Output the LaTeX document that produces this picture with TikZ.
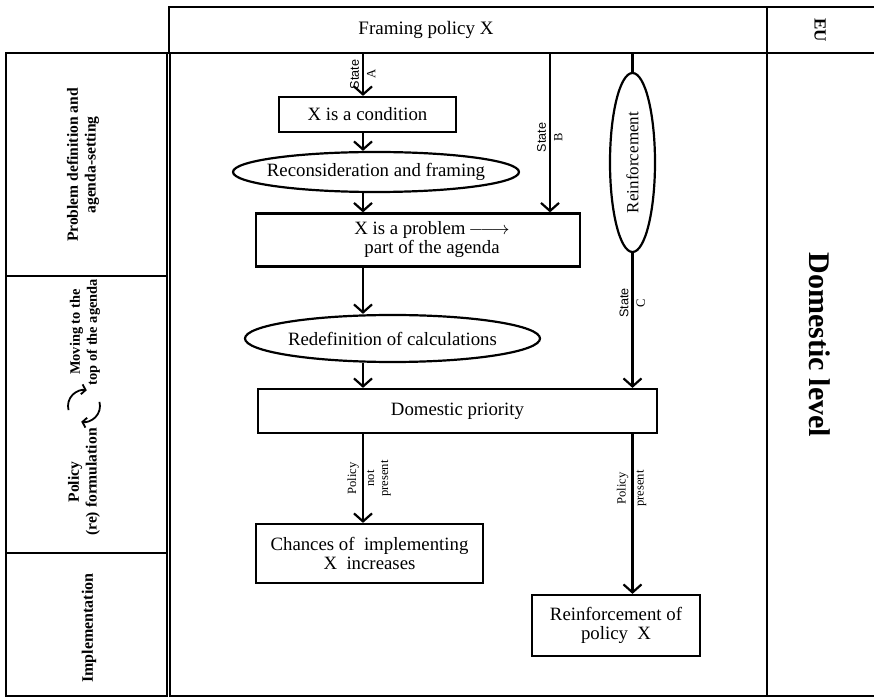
\documentclass[tikz,border=0pt]{standalone}
\usepackage{fontspec}
\setmainfont{Liberation Serif}
\newfontfamily\statefont{Liberation Sans}
\usetikzlibrary{shapes.geometric,arrows.meta}
\tikzset{
  box/.style={draw,line width=1.1pt,inner sep=0pt,align=center,font=\fontsize{9.4}{9.5}\selectfont},
  oval/.style={draw,ellipse,line width=1.1pt,inner xsep=-6pt,inner ysep=0pt,font=\fontsize{9.4}{10}\selectfont},
  flow/.style={line width=1.1pt,-{Straight Barb[length=4pt,width=9pt,line width=1.1pt]}},
  tag/.style={rotate=90,inner sep=1.5pt,align=center,font=\fontsize{6.3}{7}\selectfont},
  phase/.style={rotate=90,align=center,font=\bfseries\fontsize{7.8}{8.8}\selectfont},
  frame/.style={line width=1.4pt}
}
\begin{document}
\begin{tikzpicture}[x=0.5pt,y=-0.5pt]
\useasboundingbox (0,0) rectangle (874,700);
% frame of the table
\draw[frame] (169,7) rectangle (767,53);
\draw[frame] (767,7) rectangle (880,53);
\draw[frame] (6,53) rectangle (167,696);
\draw[frame] (6,276) -- (167,276) (6,553) -- (167,553);
\draw[frame] (170,53) rectangle (767,696);
\draw[frame] (767,53) rectangle (880,696);

\node[font=\fontsize{9.5}{11}\selectfont] (fx) at (426,30) {Framing policy\ X};
\node[rotate=-90,font=\bfseries\fontsize{8.5}{10}\selectfont] (eu) at (820,30) {EU};
\node[rotate=-90,font=\bfseries\fontsize{15}{17}\selectfont] (dl) at (820,345) {Domestic level};

% phases
\node[phase] (pd) at (83,165) {Problem definition and\\agenda-setting};
\node[phase,font=\bfseries\fontsize{7.2}{8.5}\selectfont] (mv) at (85,332) {Moving to the\\top of the agenda};
\node[phase] (pf) at (84,482) {Policy\\(re) formulation};
\node[phase,font=\bfseries\fontsize{8}{9}\selectfont] (impl) at (89,628) {Implementation};
\coordinate (cyc) at (84,406);
\draw[line width=0.9pt,-{Straight Barb[length=2pt,width=5pt,line width=0.9pt]}] ([shift={(195:8pt)}]cyc) arc[start angle=195,end angle=80,radius=8pt];
\draw[line width=0.9pt,-{Straight Barb[length=2pt,width=5pt,line width=0.9pt]}] ([shift={(15:8pt)}]cyc) arc[start angle=15,end angle=-100,radius=8pt];

% flow
\coordinate (colA) at (363,53);
\coordinate (colB) at (550,53);
\coordinate (colC) at (632.5,53);
\node[box,minimum width=88.5pt,minimum height=17.5pt] (cond) at (367.5,114.5) {X is a condition};
\node[oval,minimum width=143pt,minimum height=20pt] (recons) at (376,172) {Reconsideration and framing};
\node[box,minimum width=162pt,minimum height=26.5pt] (problem) at (418,240) {\hspace*{14pt}X is a problem\,$\relbar\joinrel\longrightarrow$\\\hspace*{14pt}part of the agenda};
\node[oval,minimum width=147.5pt,minimum height=23.5pt] (redef) at (392.5,338.5) {Redefinition of calculations};
\node[box,minimum width=199.5pt,minimum height=22pt] (prio) at (457.5,411) {Domestic priority};
\node[box,minimum width=113.5pt,minimum height=29.5pt] (chances) at (369.5,553.5) {Chances of\ \ implementing\\X\ \ increases};
\node[box,minimum width=84pt,minimum height=30.5pt] (reinfpol) at (616,625.5) {Reinforcement of\\policy\ \ X};
\node[draw,ellipse,line width=1.1pt,inner sep=0pt,minimum width=22.5pt,minimum height=89.5pt,font=\fontsize{8.5}{10}\selectfont] (reinf) at (632.5,162.5) {\rotatebox{90}{Reinforcement}};

\draw[flow] (colA) -- node[tag,anchor=south] {\statefont State} node[tag,anchor=north] {A} (cond.north -| colA);
\draw[flow] (cond.south -| colA) -- (recons.north -| colA);
\draw[flow] (recons.south -| colA) -- (problem.north -| colA);
\draw[flow] (colB) -- node[tag,anchor=south,pos=0.53] {\statefont State} node[tag,anchor=north,pos=0.53] {B} (problem.north -| colB);
\draw[line width=1.1pt] (colC) -- (reinf.north);
\draw[flow] (reinf.south) -- node[tag,anchor=south,pos=0.37] {\statefont State} node[tag,anchor=north,pos=0.37] {C} (prio.north -| colC);
\draw[flow] (problem.south -| colA) -- (redef.north -| colA);
\draw[flow] (redef.south -| colA) -- (prio.north -| colA);
\draw[flow] (prio.south -| colA) -- node[tag,anchor=south] {Policy} node[tag,anchor=north] {not\\present} (chances.north -| colA);
\draw[flow] (prio.south -| colC) -- node[tag,anchor=south,pos=0.34] {Policy} node[tag,anchor=north,pos=0.34] {present} (reinfpol.north -| colC);
\end{tikzpicture}
\end{document}
